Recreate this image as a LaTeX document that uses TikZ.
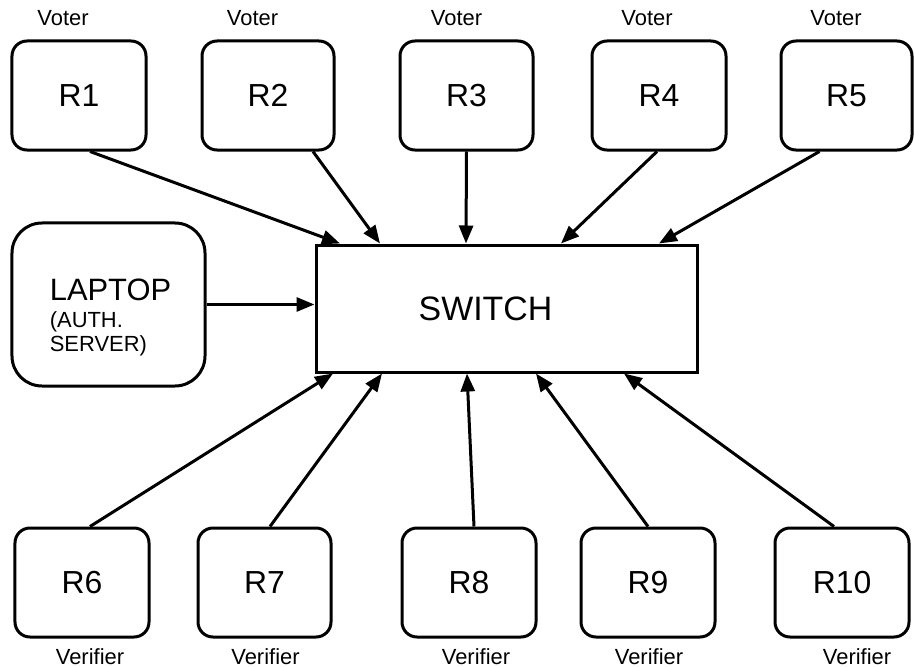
\documentclass[tikz,border=0pt]{standalone}
\usepackage{fontspec}
\setmainfont{Liberation Sans}
\usetikzlibrary{arrows.meta}
\begin{document}
\begin{tikzpicture}[x=1bp,y=-1bp,
  box/.style={draw, line width=3bp, rounded corners=15bp, minimum width=134bp, minimum height=109bp, inner sep=0pt, font=\fontsize{32}{36}\selectfont},
  role/.style={font=\fontsize{22}{26}\selectfont, anchor=base, inner sep=0pt},
  conn/.style={line width=3bp, -{Triangle[length=18bp,width=14bp]}}]
\useasboundingbox (0,0) rectangle (914,667);

% top row (voters)
\node[box] (r1) at (79,95.5) {R1};
\node[box, minimum width=132bp] (r2) at (268,95.5) {R2};
\node[box, minimum width=133bp] (r3) at (466.5,95.5) {R3};
\node[box] (r4) at (659,95.5) {R4};
\node[box, minimum width=131bp] (r5) at (846.5,95.5) {R5};

\node[role] (v1) at (63,26) {Voter};
\node[role] (v2) at (252.5,26) {Voter};
\node[role] (v3) at (456.5,26) {Voter};
\node[role] (v4) at (647,26) {Voter};
\node[role] (v5) at (836,26) {Voter};

% laptop
\node[box, minimum width=193bp, minimum height=163bp, rounded corners=30bp,
  label={[align=left, inner sep=0pt, font=\fontsize{22}{25}\selectfont, xshift=2bp, yshift=-13bp]center:{{\fontsize{31}{31}\selectfont LAPTOP}\\[2pt](AUTH.\\SERVER)}}] (lap) at (108.5,304.5) {};

% switch
\node[draw, line width=3bp, minimum width=381bp, minimum height=127bp, inner sep=0pt, font=\fontsize{34}{40}\selectfont] (sw) at (506.5,308.5) {SWITCH\hspace*{42bp}};

% bottom row (verifiers)
\node[box] (r6) at (82,582.5) {R6};
\node[box, minimum width=133bp] (r7) at (264.5,582.5) {R7};
\node[box] (r8) at (469,582.5) {R8};
\node[box] (r9) at (648,582.5) {R9};
\node[box] (r10) at (842,582.5) {R10};

\node[role] (f6) at (90,664) {Verifier};
\node[role] (f7) at (265.5,664) {Verifier};
\node[role] (f8) at (476,664) {Verifier};
\node[role] (f9) at (649,664) {Verifier};
\node[role] (f10) at (857,664) {Verifier};

% connectors
\draw[conn] ([xshift=11bp]r1.south) -- ([xshift=-166.5bp]sw.north);
\draw[conn] ([xshift=45bp]r2.south) -- ([xshift=-126.5bp]sw.north);
\draw[conn] (r3.south) -- ([xshift=-40.5bp]sw.north);
\draw[conn] ([xshift=-2bp]r4.south) -- ([xshift=54.5bp]sw.north);
\draw[conn] ([xshift=-27bp]r5.south) -- ([xshift=152.5bp]sw.north);

\draw[conn] (lap.east) -- (lap.east -| sw.west);

\draw[conn] ([xshift=8bp]r6.north) -- ([xshift=-173.5bp]sw.south);
\draw[conn] ([xshift=5.5bp]r7.north) -- ([xshift=-124.5bp]sw.south);
\draw[conn] ([xshift=5bp]r8.north) -- ([xshift=-39.5bp]sw.south);
\draw[conn] (r9.north) -- ([xshift=29.5bp]sw.south);
\draw[conn] ([xshift=-8bp]r10.north) -- ([xshift=117.5bp]sw.south);
\end{tikzpicture}
\end{document}
